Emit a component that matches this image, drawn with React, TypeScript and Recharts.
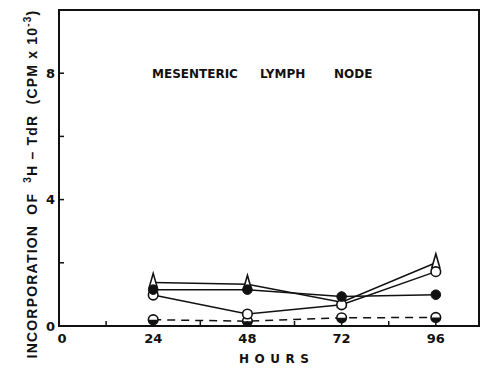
import React from 'react';
import { LineChart, Line, XAxis, YAxis, ReferenceArea, Customized } from 'recharts';

const hours = [24, 48, 72, 96];
const triangleSeries = [1.38, 1.32, 0.75, 2.0];
const filledCircleSeries = [1.15, 1.15, 0.93, 0.99];
const openCircleSeries = [0.98, 0.38, 0.67, 1.72];
const halfCircleSeries = [0.2, 0.15, 0.26, 0.27];

const xTicks = [0, 12, 24, 36, 48, 60, 72, 84, 96];
const xLabeled = [0, 24, 48, 72, 96];
const yTicks = [0, 2, 4, 6, 8, 10];
const yLabeled = [0, 4, 8];

const data = hours.map((h, i) => ({
  h,
  tri: triangleSeries[i],
  filled: filledCircleSeries[i],
  open: openCircleSeries[i],
  half: halfCircleSeries[i],
}));

const LABEL_FONT = '"Liberation Sans", Arial, sans-serif';
const DIGIT_FONT = '"DejaVu Sans", sans-serif';

const XTick = (props: any) => {
  const { x, y, payload } = props;
  const v = payload.value;
  return (
    <g>
      {v !== 0 && <line x1={x} y1={y} x2={x} y2={y - 5} stroke="#111" strokeWidth={1.5} />}
      {xLabeled.includes(v) && (
        <text x={x + (v === 0 ? 3 : 0)} y={y + 17} textAnchor="middle" fontFamily={DIGIT_FONT} fontWeight="bold" fontSize={13} fill="#111">
          {v}
        </text>
      )}
    </g>
  );
};

const YTick = (props: any) => {
  const { x, y, payload } = props;
  const v = payload.value;
  return (
    <g>
      {v !== 0 && v !== 10 && <line x1={x} y1={y} x2={x + 5} y2={y} stroke="#111" strokeWidth={1.5} />}
      {yLabeled.includes(v) && (
        <text x={x - 4} y={y + 4.5} textAnchor="end" fontFamily={DIGIT_FONT} fontWeight="bold" fontSize={13} fill="#111">
          {v}
        </text>
      )}
    </g>
  );
};

const TriangleDot = (props: any) => {
  const { cx, cy, index } = props;
  return (
    <path
      key={`tri-${index}`}
      d={`M${cx},${cy - 9} L${cx + 4},${cy + 5} L${cx - 4},${cy + 5} Z`}
      fill="#fff"
      stroke="#111"
      strokeWidth={1.6}
    />
  );
};

const FilledDot = (props: any) => {
  const { cx, cy, index } = props;
  return <circle key={`f-${index}`} cx={cx} cy={cy} r={4.8} fill="#111" stroke="#111" strokeWidth={1} />;
};

const OpenDot = (props: any) => {
  const { cx, cy, index } = props;
  return <circle key={`o-${index}`} cx={cx} cy={cy} r={4.8} fill="#fff" stroke="#111" strokeWidth={1.6} />;
};

const HalfDot = (props: any) => {
  const { cx, cy, index } = props;
  const r = 4.8;
  return (
    <g key={`h-${index}`}>
      <circle cx={cx} cy={cy} r={r} fill="#fff" stroke="#111" strokeWidth={1.6} />
      <path d={`M${cx - r},${cy} A${r},${r} 0 0 0 ${cx + r},${cy} Z`} fill="#111" />
    </g>
  );
};

const Texts = () => (
  <g fill="#111" fontWeight="bold">
    <text x={152} y={78} fontSize={12} fontFamily={DIGIT_FONT}>MESENTERIC</text>
    <text x={260} y={78} fontSize={12} fontFamily={DIGIT_FONT}>LYMPH</text>
    <text x={334} y={78} fontSize={12} fontFamily={DIGIT_FONT}>NODE</text>
    <text x={239} y={363} fontSize={12} fontFamily={DIGIT_FONT} letterSpacing={5.5}>HOURS</text>
    <text
      transform="translate(37,184) rotate(-90)"
      textAnchor="middle"
      fontSize={14}
      fontFamily={LABEL_FONT}
      letterSpacing={1.2}
      style={{ whiteSpace: 'pre' }}
    >
      {'INCORPORATION  OF  '}
      <tspan fontSize={10} dy={-6}>3</tspan>
      <tspan dy={6}>{'H – TdR  (CPM x 10'}</tspan>
      <tspan fontSize={10} dy={-6}>-3</tspan>
      <tspan dy={6}>)</tspan>
    </text>
  </g>
);

export default function App() {
  return (
    <div style={{ position: 'absolute', left: 0, top: 0, width: 482, height: 368, background: '#fff' }}>
      <LineChart width={482} height={368} data={data} margin={{ top: 10, right: 3, left: 0, bottom: 0 }}>
        <XAxis
          dataKey="h"
          type="number"
          domain={[0, 107]}
          ticks={xTicks}
          interval={0}
          height={42}
          axisLine={false}
          tickLine={false}
          tickSize={0}
          tickMargin={0}
          tick={<XTick />}
        />
        <YAxis
          type="number"
          domain={[0, 10]}
          ticks={yTicks}
          interval={0}
          width={59}
          axisLine={false}
          tickLine={false}
          tickSize={0}
          tickMargin={0}
          tick={<YTick />}
        />
        <ReferenceArea x1={0} x2={107} y1={0} y2={10} fill="none" fillOpacity={0} stroke="#111" strokeWidth={2} />
        <Line dataKey="tri" stroke="#111" strokeWidth={1.5} dot={TriangleDot} isAnimationActive={false} />
        <Line dataKey="half" stroke="#111" strokeWidth={1.5} strokeDasharray="8 6" dot={HalfDot} isAnimationActive={false} />
        <Line dataKey="open" stroke="#111" strokeWidth={1.5} dot={OpenDot} isAnimationActive={false} />
        <Line dataKey="filled" stroke="#111" strokeWidth={1.5} dot={FilledDot} isAnimationActive={false} />
        <Customized component={Texts} />
      </LineChart>
    </div>
  );
}
